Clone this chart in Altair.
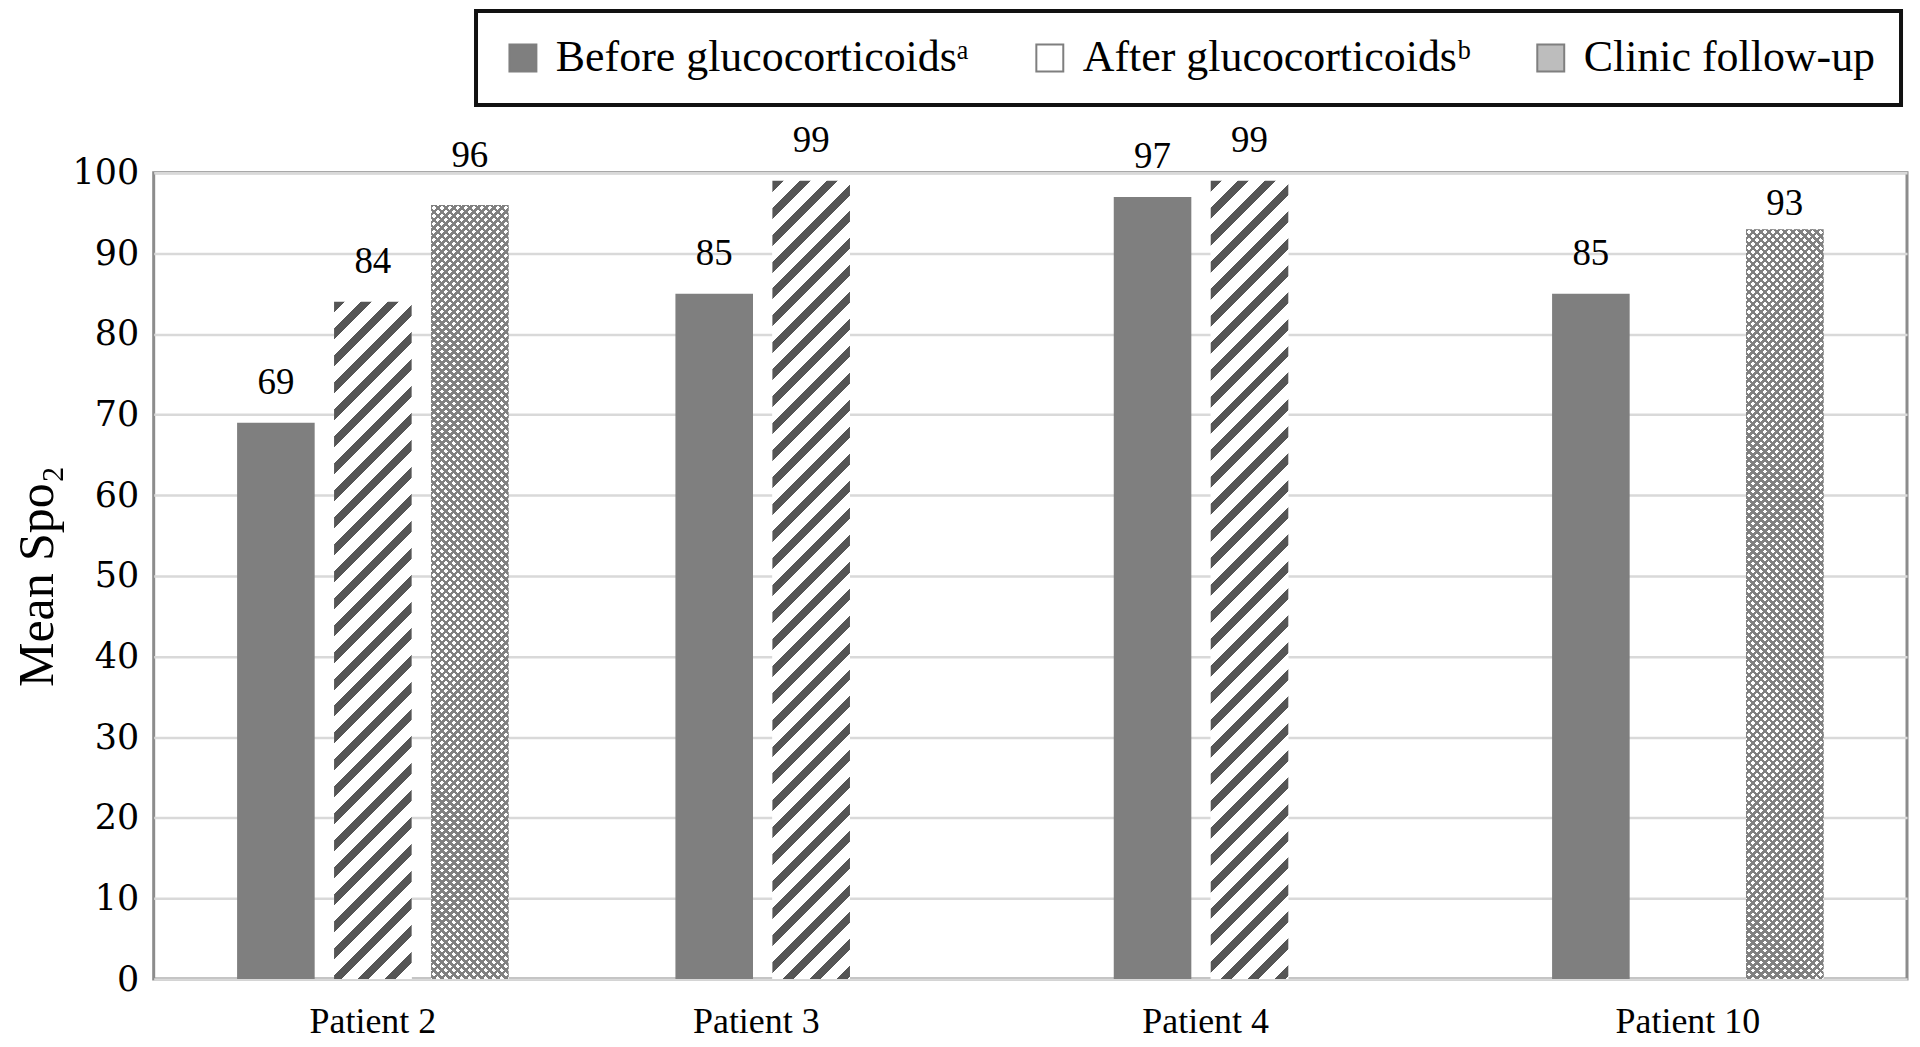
import altair as alt
import pandas as pd

# ---------------- data ----------------
patients = ["Patient 2", "Patient 3", "Patient 4", "Patient 10"]
series_names = ["Before glucocorticoidsᵃ", "After glucocorticoidsᵇ", "Clinic follow-up"]
before = [69, 85, 97, 85]
after = [84, 99, 99, None]
clinic = [96, None, None, 93]
y_ticks = [0, 10, 20, 30, 40, 50, 60, 70, 80, 90, 100]

rows = []
for i, p in enumerate(patients):
    for s, vals in zip(series_names, [before, after, clinic]):
        if vals[i] is not None:
            rows.append({"patient": p, "series": s, "value": vals[i]})
df = pd.DataFrame(rows)

# ---------------- layout / style ----------------
W, H = 1757, 808
PAD_IN, PAD_OUT = 0.2, 0.86
band = W / len(patients)
step = band / (len(series_names) - PAD_IN + 2 * PAD_OUT)
bar_w = step * (1 - PAD_IN)

SERIF = "Liberation Serif"
LABEL_DY = -29
# label nudges (style) for the two clinic labels that sit differently in the reference
label_dy_override = {("Patient 2", 2): -38, ("Patient 10", 2): -14}


def stripes(w, h, period, dark, color, bg, direction, phase=0.0):
    L = w + h
    k = L / (w * w + h * h)
    if direction == "/":
        x1, y1, x2, y2 = 0, 0, k * w, k * h
    else:
        x1, y1, x2, y2 = 1, 0, 1 - k * w, k * h
    stops = []
    s = -phase
    while s < L:
        a = max(s, 0) / L
        b = min(max(s + dark, 0), L) / L
        c = min(s + period, L) / L
        stops += [
            {"offset": round(a, 5), "color": color},
            {"offset": round(b, 5), "color": color},
            {"offset": round(b, 5), "color": bg},
            {"offset": round(c, 5), "color": bg},
        ]
        s += period
    return {"gradient": "linear", "x1": x1, "y1": y1, "x2": x2, "y2": y2, "stops": stops}


x_enc = alt.X(
    "patient:N",
    sort=patients,
    scale=alt.Scale(domain=patients, paddingInner=0, paddingOuter=0),
    axis=alt.Axis(
        title=None,
        labelFont=SERIF,
        labelFontSize=36,
        labelColor="#000000",
        labelPadding=26,
        labelAngle=0,
        ticks=False,
        domain=False,
        grid=False,
        labelOffset={
            "condition": [
                {"test": "datum.value === 'Patient 3'", "value": -55},
                {"test": "datum.value === 'Patient 4'", "value": -44},
            ],
            "value": 0,
        },
    ),
)
xo_enc = alt.XOffset(
    "series:N",
    scale=alt.Scale(domain=series_names, paddingInner=PAD_IN, paddingOuter=PAD_OUT),
)
y_enc = alt.Y(
    "value:Q",
    scale=alt.Scale(domain=[0, 100], nice=False),
    axis=alt.Axis(
        values=y_ticks,
        title="Mean Spo₂",
        titleFont=SERIF,
        titleFontSize=50,
        titleFontWeight="normal",
        titleColor="#000000",
        titlePadding=10,
        labelFont="DejaVu Serif",
        labelFontSize=35,
        labelColor="#000000",
        labelPadding=15,
        ticks=False,
        domain=False,
        grid=True,
        gridColor="#d9d9d9",
        gridWidth=2.5,
    ),
)

base = alt.Chart(df)

bars = base.mark_bar().encode(
    x=x_enc,
    xOffset=xo_enc,
    y=y_enc,
    color=alt.Color(
        "series:N",
        scale=alt.Scale(domain=series_names, range=["#7f7f7f", "#ffffff", "#bdbdbd"]),
        legend=alt.Legend(
            title=None,
            orient="none",
            legendX=323,
            legendY=-162,
            direction="horizontal",
            symbolType="square",
            symbolSize=729,
            symbolStrokeColor="#7f7f7f",
            symbolStrokeWidth=2,
            labelFont=SERIF,
            labelFontSize=44,
            labelColor="#000000",
            labelLimit=0,
            labelOffset=11,
            columnPadding=58,
            padding=25,
        ),
    ),
)

layers = [bars]
for i, p in enumerate(patients):
    if after[i] is not None:
        h = after[i] / 100 * H
        g = stripes(bar_w, h, 27, 11, "#555555", "#ffffff", "/")
        layers.append(
            base.transform_filter(
                (alt.datum.patient == p) & (alt.datum.series == series_names[1])
            ).mark_bar(fill=g).encode(x=x_enc, xOffset=xo_enc, y=y_enc)
        )
    if clinic[i] is not None:
        h = clinic[i] / 100 * H
        g1 = stripes(bar_w, h, 8, 3.5, "#808080", "#ffffff", "/")
        g2 = stripes(bar_w, h, 8, 3.5, "#808080", "rgba(255,255,255,0)", "\\")
        for g in (g1, g2):
            layers.append(
                base.transform_filter(
                    (alt.datum.patient == p) & (alt.datum.series == series_names[2])
                ).mark_bar(fill=g).encode(x=x_enc, xOffset=xo_enc, y=y_enc)
            )

# value labels
override_tests = []
for (p, si), dy in label_dy_override.items():
    override_tests.append((alt.datum.patient == p) & (alt.datum.series == series_names[si]))
not_override = ~override_tests[0]
for t in override_tests[1:]:
    not_override = not_override & ~t

layers.append(
    base.transform_filter(not_override).mark_text(
        dy=LABEL_DY, baseline="alphabetic", fontSize=37, font=SERIF, color="#000000"
    ).encode(x=x_enc, xOffset=xo_enc, y=y_enc, text=alt.Text("value:Q"))
)
for ((p, si), dy), t in zip(label_dy_override.items(), override_tests):
    layers.append(
        base.transform_filter(t).mark_text(
            dy=dy, baseline="alphabetic", fontSize=37, font=SERIF, color="#000000"
        ).encode(x=x_enc, xOffset=xo_enc, y=y_enc, text=alt.Text("value:Q"))
    )

chart = (
    alt.layer(*layers)
    .properties(
        width=W,
        height=H,
        padding={"left": 4, "top": 0, "right": 5, "bottom": 5},
        background="#ffffff",
    )
    .configure_view(stroke="#8c8c8c", strokeWidth=3)
    .configure_legend(strokeColor="#111111", strokeWidth=4)
)

chart.save("out.html", embed_options={"renderer": "svg", "actions": False})
